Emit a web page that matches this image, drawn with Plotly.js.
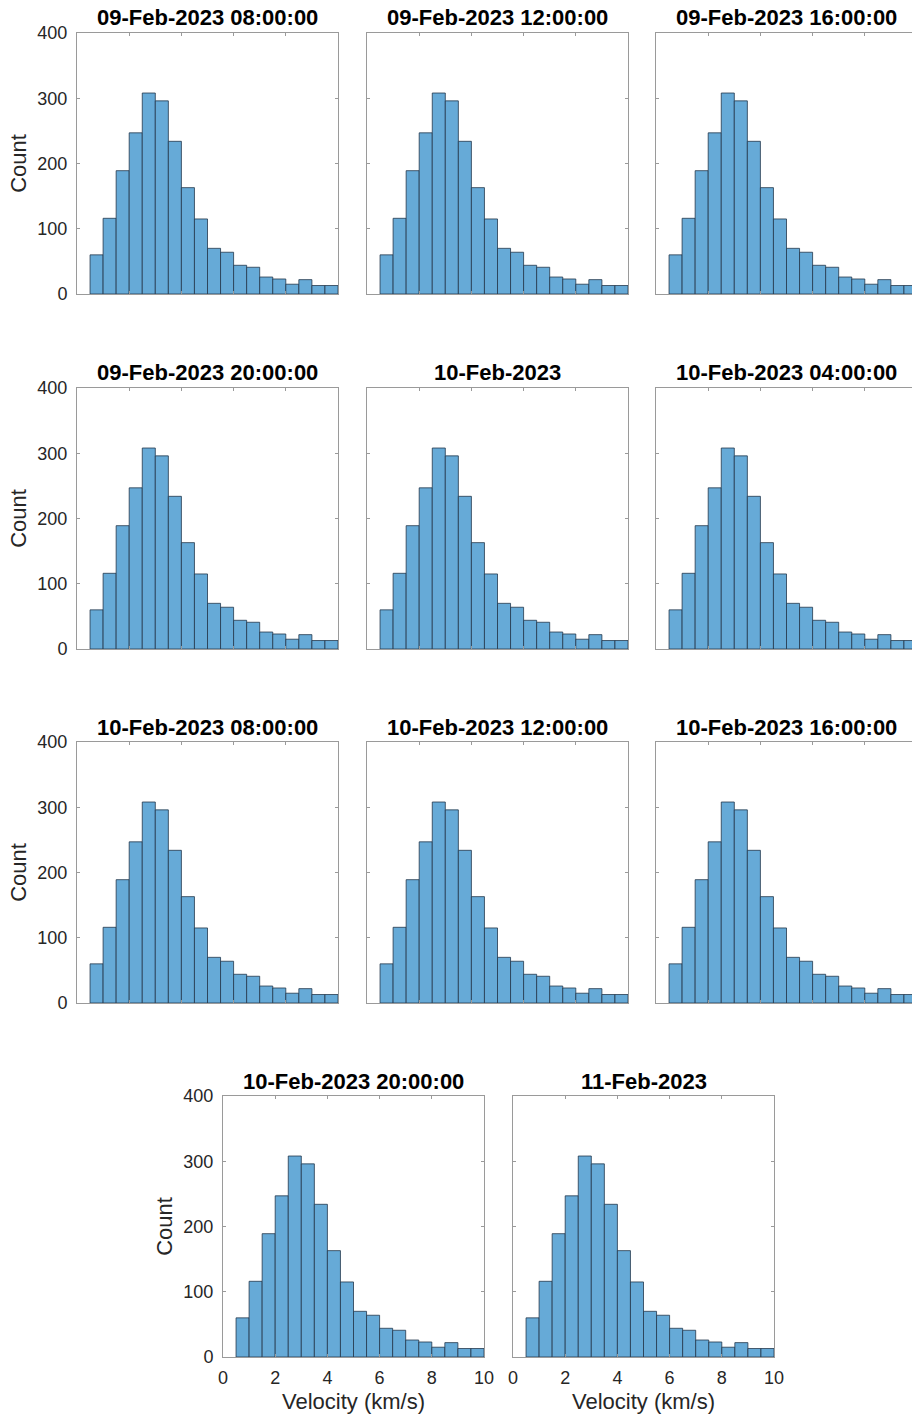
<!DOCTYPE html>
<html>
<head>
<meta charset="utf-8">
<script src="https://cdn.plot.ly/plotly-3.0.1.min.js"></script>
<style>
html,body{margin:0;padding:0;overflow:hidden;background:#fff;}
#chart{width:920px;height:1418px;}
</style>
</head>
<body>
<div id="chart"></div>
<script>
// ---- Data ----
const panelTitles = [
  "09-Feb-2023 08:00:00", "09-Feb-2023 12:00:00", "09-Feb-2023 16:00:00",
  "09-Feb-2023 20:00:00", "10-Feb-2023", "10-Feb-2023 04:00:00",
  "10-Feb-2023 08:00:00", "10-Feb-2023 12:00:00", "10-Feb-2023 16:00:00",
  "10-Feb-2023 20:00:00", "11-Feb-2023"
];
const binCenters = [0.75, 1.25, 1.75, 2.25, 2.75, 3.25, 3.75, 4.25, 4.75, 5.25,
                    5.75, 6.25, 6.75, 7.25, 7.75, 8.25, 8.75, 9.25, 9.75];
const binWidth = 0.5;
const counts = [60, 116, 189, 247, 308, 296, 234, 163, 115, 70,
                64, 44, 41, 26, 23, 15, 22, 13, 13];
const xTicks = [0, 2, 4, 6, 8, 10];
const yTicks = [0, 100, 200, 300, 400];
const xLabel = "Velocity (km/s)";
const yLabel = "Count";

// ---- Layout geometry (pixels) ----
const W = 920, H = 1418, BOX = 261;
const panelPos = [
  [77, 33], [367, 33], [656, 33],
  [77, 388], [367, 388], [656, 388],
  [77, 742], [367, 742], [656, 742],
  [223, 1096], [513, 1096]
];
const FONT = '"Liberation Sans", Arial, sans-serif';
const BOXCOL = '#9a9a9a';

const traces = [];
const layout = {
  width: W, height: H,
  margin: {l: 0, r: 0, t: 0, b: 0},
  paper_bgcolor: '#fff', plot_bgcolor: '#fff',
  showlegend: false,
  bargap: 0,
  annotations: [],
  font: {family: FONT, size: 18, color: '#262626'}
};

panelPos.forEach((p, i) => {
  const n = i + 1;
  const xa = n === 1 ? 'x' : 'x' + n;
  const ya = n === 1 ? 'y' : 'y' + n;
  traces.push({
    type: 'bar', x: binCenters, y: counts, width: binWidth,
    xaxis: xa, yaxis: ya,
    marker: {color: 'rgb(102,170,215)', line: {color: 'rgb(35,55,75)', width: 0.8}},
    hoverinfo: 'x+y'
  });
  const left = p[0], top = p[1];
  const isBottom = i >= 9;
  const isLeft = (i % 3 === 0 && i < 9) || i === 9;
  const xdom = [left / W, (left + BOX) / W];
  const ydom = [1 - (top + BOX) / H, 1 - top / H];
  const xKey = n === 1 ? 'xaxis' : 'xaxis' + n;
  const yKey = n === 1 ? 'yaxis' : 'yaxis' + n;
  layout[xKey] = {
    domain: xdom, anchor: ya, range: [0, 10],
    tickvals: xTicks, ticktext: xTicks.map(String),
    showticklabels: isBottom,
    ticks: 'inside', ticklen: 3, tickwidth: 1, tickcolor: BOXCOL,
    showline: true, linecolor: BOXCOL, linewidth: 1, mirror: 'ticks',
    showgrid: false, zeroline: false, fixedrange: true,
    tickfont: {family: FONT, size: 18, color: '#262626'},
    ticklabelstandoff: 4,
    title: isBottom ? {text: xLabel, standoff: 7, font: {family: FONT, size: 22, color: '#262626'}} : {text: ''}
  };
  layout[yKey] = {
    domain: ydom, anchor: xa, range: [0, 400],
    tickvals: yTicks, ticktext: yTicks.map(String),
    showticklabels: isLeft,
    ticks: 'inside', ticklen: 3, tickwidth: 1, tickcolor: BOXCOL,
    showline: true, linecolor: BOXCOL, linewidth: 1, mirror: 'ticks',
    showgrid: false, zeroline: false, fixedrange: true,
    tickfont: {family: FONT, size: 18, color: '#262626'},
    ticklabelstandoff: 5,
    title: isLeft ? {text: yLabel, standoff: 4, font: {family: FONT, size: 22, color: '#262626'}} : {text: ''}
  };
  layout.annotations.push({
    text: '<b>' + panelTitles[i] + '</b>',
    xref: 'paper', yref: 'paper',
    x: (left + BOX / 2) / W, y: 1 - (top - 15) / H,
    xanchor: 'center', yanchor: 'middle', showarrow: false,
    font: {family: FONT, size: 22, color: '#000'}
  });
});

Plotly.newPlot('chart', traces, layout, {staticPlot: true, displayModeBar: false});
</script>
</body>
</html>
